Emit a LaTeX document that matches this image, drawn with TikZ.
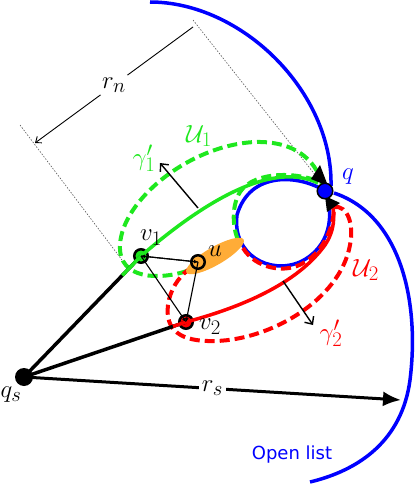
\documentclass[tikz,border=0pt]{standalone}
\usepackage{fontspec}
\newfontfamily\dejavu{DejaVu Sans}
\DeclareMathSizes{24}{24}{21}{16}
\usetikzlibrary{arrows.meta,calc}
\definecolor{gr}{RGB}{30,232,30}
\definecolor{bl}{RGB}{0,0,255}
\definecolor{rd}{RGB}{255,0,0}
\definecolor{org}{RGB}{255,172,55}
\begin{document}
\begin{tikzpicture}[x=1pt,y=-1pt,
  lab/.style={font=\fontsize{24}{28}\selectfont, inner sep=0pt},
  vnode/.style={circle, draw=black, line width=2.5pt, minimum size=13.5pt, inner sep=0pt},
  thickblack/.style={line width=3.5pt, black},
  thinblack/.style={line width=1.1pt, black},
  dashpat/.style={line width=4pt, dash pattern=on 10pt off 5pt},
  bluecurve/.style={bl, line width=3.5pt},
  dotline/.style={gray!70!black, line width=0.6pt, dash pattern=on 1.5pt off 1.5pt},
  normarrow/.style={line width=1.4pt, -{Straight Barb[length=6pt,width=11pt]}}
]
\useasboundingbox (0,0) rectangle (416,484);

% coordinates
\coordinate (qpt) at (325,191);
\coordinate (dt1a) at (193,20);
\coordinate (dt1b) at (316,176);
\coordinate (dt2a) at (20,125);
\coordinate (dt2b) at (122,260);
\coordinate (dn1) at (193,27);
\coordinate (dn2) at (35,143);
\coordinate (rsend) at (401,400);
\coordinate (n1a) at (198,208);
\coordinate (n1b) at (160,163);
\coordinate (n2a) at (283,281);
\coordinate (n2b) at (313,325);
\coordinate (arcA) at (150,2);
\coordinate (arcB) at (310,482);

% dotted guide lines
\draw[dotline] (dt1a) -- (dt1b);
\draw[dotline] (dt2a) -- (dt2b);

% r_n dimension
\draw[line width=0.9pt, -{Straight Barb[length=5pt,width=8pt]}] (dn1) -- (dn2)
  node[midway, lab, fill=white, circle, inner sep=2pt] (rn) {$r_n$};

% open list arcs
\draw[bluecurve] (arcA) .. controls (242,2) and (333,92) .. (331,186);
\draw[bluecurve] (334,193) .. controls (400,215) and (420,300) .. (410,380)
   .. controls (402,440) and (360,470) .. (arcB);
% blue loop
\draw[bluecurve] (qpt) .. controls (300,175) and (250,170) .. (237,215)
   .. controls (232,255) and (270,275) .. (300,262)
   .. controls (330,248) and (335,215) .. (qpt);

% U1 dashed
\draw[gr, dashpat] (187,271) .. controls (160,280) and (118,280) .. (120,245)
   .. controls (122,200) and (190,145) .. (255,142)
   .. controls (295,141) and (315,160) .. (322,183)
   .. controls (300,172) and (255,170) .. (240,192)
   .. controls (232,205) and (232,225) .. (238,240);
% U2 dashed
\draw[rd, dashpat] (243,248) .. controls (255,268) and (285,275) .. (305,262)
   .. controls (325,250) and (334,225) .. (334,207)
   .. controls (348,205) and (354,225) .. (350,245)
   .. controls (340,300) and (270,340) .. (215,341)
   .. controls (180,342) and (165,330) .. (168,305)
   .. controls (170,290) and (178,278) .. (188,270);

% orange region
\fill[org, rotate around={30:(215,256)}] (215,256) ellipse [x radius=33, y radius=9];

% nodes
\node[circle, fill=black, minimum size=18pt, inner sep=0pt] (qs) at (24,377) {};
\node[vnode, fill=gr] (v1) at (141,256) {};
\node[vnode, fill=org] (u) at (198,262) {};
\node[vnode, fill=rd] (v2) at (186,322) {};

% thick black rays
\draw[thickblack] (qs.center) -- (v1.center);
\draw[thickblack] (qs.center) -- (v2.center);

% green and red paths
\draw[gr, line width=3.5pt] ($(qs)!0.84!(v1)$) -- (v1.center) .. controls (200,205) and (270,160) .. (318,183);
\draw[rd, line width=3.5pt] ($(qs)!0.92!(v2)$) -- (v2.center) .. controls (250,305) and (300,280) .. (325,245)
   .. controls (335,230) and (335,215) .. (332,203);

% thin graph edges
\draw[thinblack, -{Latex[length=4pt,width=4pt]}] (u.center) -- (v1.center);
\draw[thinblack, -{Latex[length=4pt,width=4pt]}] (v1.center) -- (u.center);
\draw[thinblack, -{Latex[length=4pt,width=4pt]}] (v1.center) -- (v2.center);
\draw[thinblack, -{Latex[length=4pt,width=4pt]}] (u.center) -- (v2.center);

% normal arrows
\draw[normarrow] (n1a) -- (n1b);
\draw[normarrow] (n2a) -- (n2b);

% r_s arrow
\draw[line width=3pt, -{Latex[length=18pt,width=15pt]}] (qs.center) -- (rsend)
  node[pos=0.5, lab, fill=white, inner sep=3pt] (rs) {$r_s$};

% black arrowheads at q
\fill[black] (311,179) -- (320,165) -- (328,186) -- cycle;
\fill[black] (325,196) -- (340,203) -- (327,212) -- cycle;

% q
\node[circle, draw=black, line width=1.5pt, fill=bl, minimum size=15.5pt, inner sep=0pt] (q) at (qpt) {};

% labels
\node[lab, text=bl] (ql) at (348,177) {$q$};
\node[lab] (qsl) at (11,395) {$q_s$};
\node[lab] (v1l) at (151,238) {$v_1$};
\node[lab] (ul) at (215,251) {$u$};
\node[lab] (v2l) at (210,327) {$v_2$};
\node[lab, text=gr] (U1l) at (199,136) {$\mathcal{U}_1$};
\node[lab, text=gr] (g1l) at (144,158) {$\gamma'_1$};
\node[lab, text=rd] (U2l) at (366,270) {$\mathcal{U}_2$};
\node[lab, text=rd] (g2l) at (331,333) {$\gamma'_2$};
\node[font=\dejavu\fontsize{18}{20}\selectfont, text=bl, inner sep=0pt] (open) at (292,455) {Open list};
\end{tikzpicture}
\end{document}
